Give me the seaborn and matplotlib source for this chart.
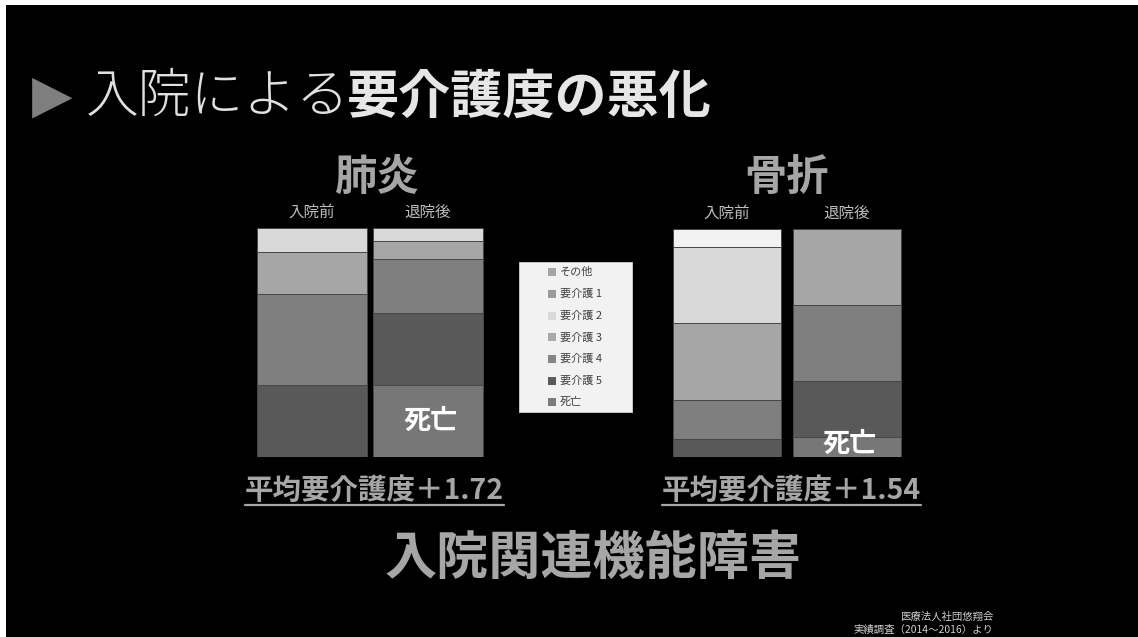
import numpy as np
import pandas as pd
import matplotlib
matplotlib.use("Agg")
import matplotlib.pyplot as plt
from matplotlib.patches import Rectangle
from matplotlib.lines import Line2D
import seaborn as sns

# ---- data -------------------------------------------------------------
categories = ["その他", "要介護1", "要介護2", "要介護3", "要介護4", "要介護5", "死亡"]
legend_labels = ["その他", "要介護 1", "要介護 2", "要介護 3", "要介護 4", "要介護 5", "死亡"]
stages = ["入院前", "退院後"]

# share of patients (%) per care level, top of stack first
pneumonia_before = [0, 0, 10.6, 18.5, 39.6, 31.3, 0]
pneumonia_after = [0, 0, 5.7, 8.1, 23.3, 31.6, 31.3]
fracture_before = [0, 8.1, 33.2, 33.8, 16.9, 8.0, 0]
fracture_after = [0, 0, 0, 33.4, 33.3, 24.7, 8.6]

groups = ["肺炎", "骨折"]
avg_change = ["＋1.72", "＋1.54"]

bar_colors = ["#a6a6a6", "#f2f2f2", "#d9d9d9", "#a6a6a6", "#7f7f7f", "#595959", "#777777"]
legend_colors = ["#a5a5a5", "#9b9b9b", "#dadada", "#a8a8a8", "#858585", "#5b5b5b", "#7b7b7b"]

# ---- style ------------------------------------------------------------
sns.set_style("dark")
plt.rcParams["font.family"] = ["Noto Sans CJK JP", "DejaVu Sans"]

W, H = 1138, 637
fig = plt.figure(figsize=(W / 100, H / 100), dpi=100, facecolor="white")


def fx(x):
    return x / W


def fy(y):
    return 1 - y / H


# dark slide background
fig.add_artist(Rectangle((fx(6), 0), 1 - fx(6), fy(5), transform=fig.transFigure,
                         facecolor="black", edgecolor="none", zorder=0))


def stacked(ax, before, after, width):
    df = pd.DataFrame({
        "stage": np.repeat(stages, len(categories)),
        "category": categories * 2,
        "value": before + after,
    })
    df["cum"] = df.groupby("stage")["value"].transform(lambda s: s[::-1].cumsum()[::-1])
    # tallest cumulative bar first so each lower segment is drawn over it
    for cat, col in zip(categories, bar_colors):
        sub = df[(df["category"] == cat) & (df["value"] > 0)]
        if sub.empty:
            continue
        sns.barplot(data=sub, x="stage", y="cum", order=stages, color=col,
                    saturation=1, width=width, edgecolor="#454545", linewidth=0.7,
                    errorbar=None, ax=ax)
    ax.set_xlim(-0.5, 1.5)
    ax.set_ylim(0, 100)
    ax.set_facecolor("none")
    ax.axis("off")
    return df


def make_ax(left, right, top, bottom):
    return fig.add_axes([fx(left), fy(bottom), fx(right) - fx(left), (bottom - top) / H])


ax_p = make_ax(254, 486, 227.7, 456.7)
ax_f = make_ax(667, 907, 229, 457)
stacked(ax_p, pneumonia_before, pneumonia_after, 0.95)
stacked(ax_f, fracture_before, fracture_after, 0.9)

# "死亡" labels inside the death segment, stage labels above the bars
for ax, after in [(ax_p, pneumonia_after), (ax_f, fracture_after)]:
    ax.text(1.02, after[-1] / 2 + (0 if after[-1] > 20 else 1.5), "死亡", ha="center",
            va="center", color="white", fontsize=19.5, fontweight="bold")
    for i, s in enumerate(stages):
        ax.text(i, 103, s, ha="center", va="bottom", color="#bdbdbd", fontsize=11.2,
                clip_on=False)

# group headings
fig.text(fx(376), fy(178), groups[0], ha="center", va="center", color="#a6a6a6",
         fontsize=30.5, fontweight="bold")
fig.text(fx(787), fy(178), groups[1], ha="center", va="center", color="#a6a6a6",
         fontsize=30.5, fontweight="bold")

# title
fig.text(fx(32), fy(96), "▶", ha="left", va="center", color="#7f7f7f", fontsize=38,
         family=["DejaVu Sans"])
fig.text(fx(86), fy(97), "入院による", ha="left", va="center", color="#e0e0e0",
         fontsize=38, fontweight="light")
fig.text(fx(347), fy(97), "要介護度の悪化", ha="left", va="center", color="#e6e6e6",
         fontsize=37.5, fontweight="bold")

# legend box
fig.add_artist(Rectangle((fx(519), fy(411.7)), fx(632) - fx(519), (411.7 - 262) / H,
                         transform=fig.transFigure, facecolor="#f2f2f2",
                         edgecolor="#d0d0d0", linewidth=0.6, zorder=1))
rows = [272.3, 294, 315.7, 337.3, 359, 380.7, 401.7]
for lab, col, yy in zip(legend_labels, legend_colors, rows):
    fig.add_artist(Rectangle((fx(547.5), fy(yy + 4)), 8 / W, 8 / H, transform=fig.transFigure,
                             facecolor=col, edgecolor="none", zorder=2))
    fig.text(fx(560), fy(yy), lab, ha="left", va="center", color="#404040", fontsize=8,
             zorder=3)

# average change lines, underlined
fig.canvas.draw()
for cx, delta in [(374.5, avg_change[0]), (791.5, avg_change[1])]:
    t = fig.text(fx(cx), fy(491), "平均要介護度" + delta, ha="center", va="center",
                 color="#a6a6a6", fontsize=20.5, fontweight="bold")
    fig.canvas.draw()
    b = t.get_window_extent()
    fig.add_artist(Line2D([b.x0 / W, b.x1 / W], [fy(505), fy(505)], transform=fig.transFigure,
                          color="#a6a6a6", linewidth=1.6))

# conclusion
fig.text(fx(593), fy(558), "入院関連機能障害", ha="center", va="center", color="#a6a6a6",
         fontsize=37.5, fontweight="bold")

# source note
fig.text(fx(993), fy(617), "医療法人社団悠翔会", ha="right", va="center", color="#d0d0d0",
         fontsize=7.5)
fig.text(fx(993), fy(630), "実績調査（2014～2016）より", ha="right", va="center",
         color="#d0d0d0", fontsize=7.5)

fig.savefig("out.png", dpi=100, facecolor=fig.get_facecolor())
